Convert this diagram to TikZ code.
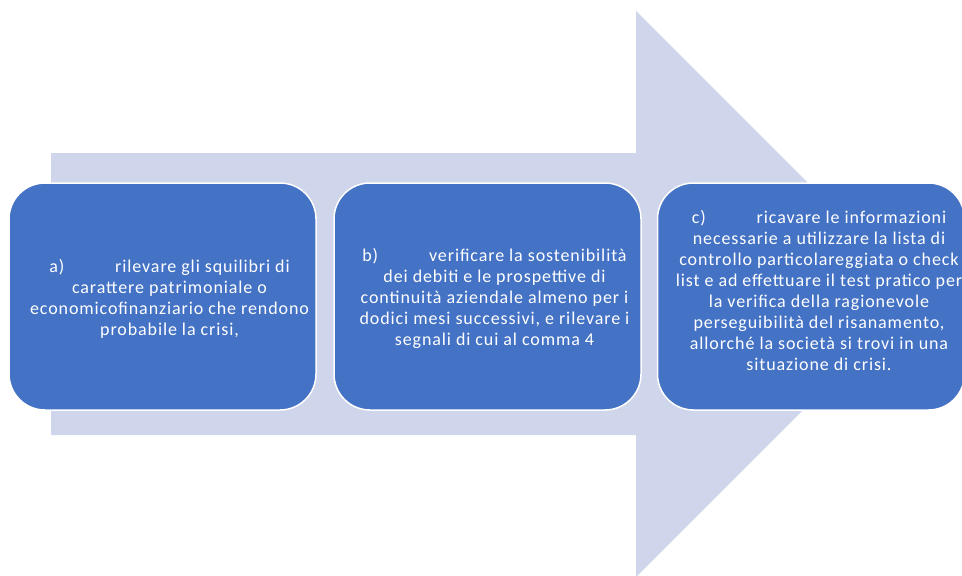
\documentclass[tikz,border=0pt]{standalone}
\usepackage{fontspec}
\setmainfont{Carlito}
\newfontfamily\boxfont[LetterSpace=5]{Carlito}
\usetikzlibrary{positioning}
\definecolor{arrowfill}{HTML}{CFD5EA}
\definecolor{boxfill}{HTML}{4472C4}

\begin{document}
\begin{tikzpicture}[x=1pt, y=-1pt,
  stepbox/.style={draw=white, line width=1.5pt, fill=boxfill, rounded corners=36pt,
    minimum width=307pt, minimum height=227pt, inner sep=0pt},
  steptext/.style={text=white, align=center, inner sep=0pt,
    font=\boxfont\fontsize{18}{21}\selectfont}]
  \useasboundingbox (0,0) rectangle (962,576);
  \clip (0,0) rectangle (962,576);

  % Background arrow
  \fill[arrowfill] (51,153) -- (636,153) -- (636,11) -- (919,294)
    -- (636,577) -- (636,435) -- (51,435) -- cycle;

  % Step boxes
  \node[stepbox] (boxa) at (162.5,296.5) {};
  \node[stepbox] (boxb) at (487.5,296.5) {};
  \node[stepbox] (boxc) at (811,296.5) {};

  % Texts
  \node[steptext] (texta) at ([xshift=7pt,yshift=-2pt]boxa.center) {a)\hspace{46pt} rilevare gli squilibri di\\
    carattere patrimoniale o\\
    economicofinanziario che rendono\\
    probabile la crisi,};
  \node[steptext] (textb) at ([xshift=7pt,yshift=-2pt]boxb.center) {b)\hspace{46pt} verificare la sostenibilità\\
    dei debiti e le prospettive di\\
    continuità aziendale almeno per i\\
    dodici mesi successivi, e rilevare i\\
    segnali di cui al comma 4};
  \node[steptext] (textc) at ([xshift=8pt,yshift=6pt]boxc.center) {c)\hspace{46pt} ricavare le informazioni\\
    necessarie a utilizzare la lista di\\
    controllo particolareggiata o check\\
    list e ad effettuare il test pratico per\\
    la verifica della ragionevole\\
    perseguibilità del risanamento,\\
    allorché la società si trovi in una\\
    situazione di crisi.};
\end{tikzpicture}
\end{document}
